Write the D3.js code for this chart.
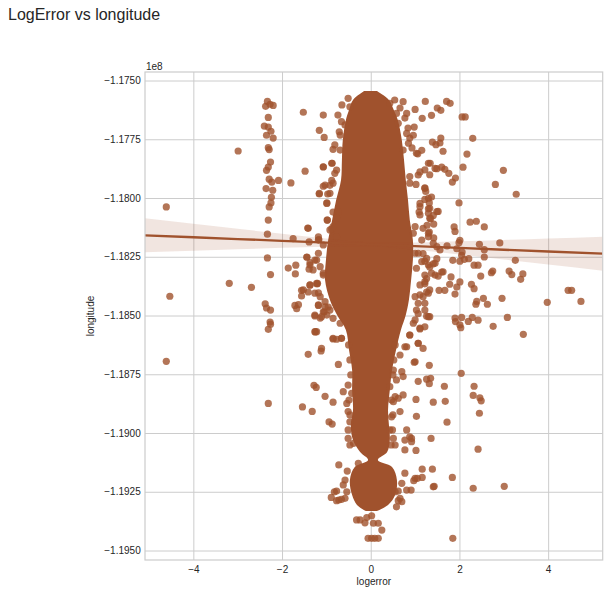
<!DOCTYPE html>
<html>
<head>
<meta charset="utf-8">
<script src="https://cdn.jsdelivr.net/npm/d3@7"></script>
<style>
body { margin: 0; background: #fff; }
text { font-family: "Liberation Sans", Arial, sans-serif; fill: #262626; }
</style>
</head>
<body>
<svg id="chart" width="608" height="593"></svg>
<script>
// logerror vs longitude (longitude values below are in units of 1e6, scaled up when drawn)

// tick values
var xTicks = [-4, -2, 0, 2, 4];
var yTicks = [-117.5, -117.75, -118.0, -118.25, -118.5, -118.75, -119.0, -119.25, -119.5];

// dense central column: where the points fully overlap
var coreLon   = [-117.545, -117.583, -117.626, -117.668, -117.753, -117.838, -117.923, -118.009, -118.094, -118.179, -118.264, -118.349, -118.434, -118.498, -118.562, -118.647, -118.732, -118.817, -118.902, -118.966, -119.030, -119.081, -119.115, -119.145, -119.200, -119.264, -119.306, -119.332];
var coreLeft  = [-0.15, -0.40, -0.49, -0.56, -0.63, -0.65, -0.67, -0.78, -0.87, -0.96, -1.01, -1.03, -0.92, -0.76, -0.56, -0.49, -0.42, -0.42, -0.40, -0.45, -0.40, -0.24, -0.06, -0.36, -0.47, -0.42, -0.31, -0.11];
var coreRight = [0.14, 0.41, 0.52, 0.61, 0.70, 0.75, 0.79, 0.84, 0.88, 0.95, 0.95, 0.91, 0.86, 0.79, 0.68, 0.57, 0.48, 0.43, 0.39, 0.41, 0.43, 0.37, 0.16, 0.48, 0.59, 0.55, 0.39, 0.14];

// single points [logerror, longitude]
var leftColumn = [[-2.33,-117.589],[-2.20,-117.606],[-2.37,-117.610],[-2.27,-117.601],[-2.31,-117.657],[-2.40,-117.694],[-2.31,-117.698],[-2.25,-117.716],[-2.35,-117.733],[-2.20,-117.745],[-2.31,-117.786],[-2.29,-117.794],[-2.26,-117.847],[-2.31,-117.868],[-2.35,-117.882],[-2.29,-117.920],[-2.23,-117.932],[-2.08,-117.925],[-2.36,-117.960],[-2.21,-117.967],[-2.24,-117.997],[-2.25,-118.021],[-2.29,-118.038],[-2.31,-118.094],[-2.33,-118.154],[-2.33,-118.255],[-2.26,-118.326],[-2.38,-118.450],[-2.35,-118.468],[-2.26,-118.477],[-2.27,-118.528],[-2.26,-118.537],[-2.31,-118.559],[-2.31,-118.874]];

var farLeft = [[-4.61,-118.038],[-4.61,-118.695],[-4.53,-118.418],[-2.99,-117.800],[-3.19,-118.363],[-2.69,-118.380],[-1.80,-117.936],[-1.75,-118.173],[-1.52,-117.635],[-1.48,-117.886],[-1.86,-118.298],[-1.69,-118.286],[-1.70,-118.323],[-1.71,-118.457],[-1.63,-118.454],[-1.67,-118.471],[-1.54,-118.889],[-1.32,-118.908],[-1.42,-118.128],[-1.39,-118.187],[-1.17,-118.177],[-1.44,-118.251],[-1.37,-118.275],[-1.39,-118.303],[-1.56,-118.393],[-1.41,-118.400],[-1.37,-118.371],[-1.21,-118.366],[-1.18,-118.404],[-1.56,-118.417],[-1.26,-118.502],[-1.14,-118.511],[-1.05,-118.485],[-0.96,-118.464],[-1.18,-118.457],[-0.99,-118.498],[-1.25,-118.570],[-0.85,-118.600],[-1.41,-118.665],[-1.12,-118.651],[-1.28,-118.797],[-1.23,-118.806],[-1.03,-118.844],[-0.85,-118.869],[-0.94,-118.953],[-0.87,-118.962],[-0.89,-119.274],[-0.82,-119.250]];

var nearLeft = [[-1.07,-117.647],[-1.16,-117.712],[-1.05,-117.742],[-0.85,-117.793],[-1.07,-117.868],[-0.88,-117.925],[-0.92,-117.946],[-1.07,-117.950],[-1.16,-117.983],[-0.97,-117.983],[-0.99,-118.021],[-0.98,-118.094],[-0.85,-118.060],[-0.88,-118.131],[-0.66,-117.675],[-0.51,-117.576],[-0.71,-117.718],[-0.69,-117.796],[-0.87,-117.852],[-0.77,-117.881],[-0.85,-118.122],[-0.77,-118.165],[-1.18,-118.165],[-1.22,-118.264],[-1.07,-118.320],[-1.18,-118.235],[-1.20,-118.363],[-1.03,-118.441],[-1.07,-118.484],[-1.22,-118.569],[-0.66,-118.597],[-0.77,-118.601],[-0.73,-118.708],[-0.51,-118.796],[-0.62,-118.824],[-0.43,-118.831],[-0.54,-118.874],[-0.51,-118.909],[-0.47,-118.952],[-0.51,-119.023],[-0.39,-119.044],[-0.72,-119.136],[-0.53,-119.162],[-0.28,-119.129],[-0.58,-119.200],[-0.62,-119.221],[-0.54,-119.250],[-0.77,-119.247],[-0.72,-119.285],[-0.58,-119.278],[-0.77,-119.288],[-0.66,-119.282],[-0.47,-117.612]];

// points packed just outside the solid core
var haloLeft = [[-1.07,-117.867],[-0.88,-117.852],[-0.81,-117.895],[-0.85,-117.937],[-1.03,-117.945],[-1.16,-117.980],[-0.92,-117.980],[-0.99,-118.023],[-0.73,-118.058],[-0.98,-118.094],[-0.77,-118.086],[-1.41,-118.129],[-0.92,-118.136],[-1.18,-118.179],[-1.07,-118.200],[-1.44,-118.252],[-1.26,-118.264],[-1.37,-118.285],[-1.14,-118.292],[-1.30,-118.306],[-1.07,-118.328],[-1.37,-118.370],[-1.22,-118.363],[-1.52,-118.391],[-1.26,-118.405],[-1.14,-118.420],[-1.18,-118.455],[-1.03,-118.463],[-0.92,-118.477],[-1.26,-118.498],[-1.11,-118.505],[-0.85,-118.512],[-0.69,-118.533],[-1.26,-118.569],[-0.85,-118.597],[-0.66,-118.597],[-1.11,-118.640],[-0.65,-117.604],[-0.74,-117.647],[-0.58,-117.689],[-0.69,-117.732],[-0.81,-117.774],[-0.50,-118.625],[-0.47,-118.689],[-0.45,-118.753],[-0.49,-118.860],[-0.47,-118.923],[-0.51,-118.987],[-0.47,-119.051]];

var haloRight = [[1.03,-117.810],[1.30,-117.852],[1.45,-117.874],[1.07,-117.902],[0.88,-117.937],[1.22,-117.959],[1.30,-118.001],[1.11,-118.023],[1.33,-118.044],[1.49,-118.058],[1.11,-118.072],[1.33,-118.086],[1.00,-118.122],[1.30,-118.150],[1.15,-118.179],[1.49,-118.207],[1.07,-118.235],[1.26,-118.257],[1.45,-118.278],[1.03,-118.299],[1.22,-118.328],[1.45,-118.328],[1.11,-118.370],[1.30,-118.405],[1.00,-118.420],[1.22,-118.448],[1.03,-118.477],[1.30,-118.505],[0.96,-118.533],[1.11,-118.554],[0.88,-118.583],[1.07,-118.618],[0.81,-118.633],[0.54,-117.583],[0.66,-117.617],[0.77,-117.660],[0.84,-117.702],[0.88,-117.745],[0.93,-117.787],[0.55,-118.625],[0.52,-118.689],[0.50,-118.753],[0.47,-118.860],[0.50,-118.923],[0.49,-118.987],[0.46,-119.051]];

var bottomTail = [[-0.24,-119.370],[-0.09,-119.360],[0.02,-119.352],[-0.13,-119.382],[0.06,-119.384],[0.17,-119.384],[0.25,-119.413],[-0.06,-119.448],[0.02,-119.448],[0.09,-119.448],[0.17,-119.448],[-0.32,-119.370],[1.85,-119.448]];

var nearRight = [[0.58,-119.314],[0.62,-119.288],[0.62,-119.247],[0.81,-119.243],[0.70,-119.214],[1.00,-118.235],[1.15,-118.271],[1.30,-118.285],[1.37,-118.320],[1.22,-118.356],[1.33,-118.391],[1.18,-118.420],[1.07,-118.448],[1.22,-118.477],[1.33,-118.505],[1.00,-118.519],[0.88,-118.583],[0.77,-118.633],[0.66,-118.668],[1.00,-118.697],[0.51,-118.732],[0.70,-118.739],[0.58,-118.774],[0.73,-118.760],[0.55,-118.845],[0.73,-118.838],[0.43,-118.803],[0.51,-118.867],[0.62,-118.852],[0.66,-118.909],[0.47,-118.931],[0.43,-118.987],[0.51,-119.023],[0.55,-119.051],[0.81,-118.987],[0.88,-119.016],[0.77,-119.030],[0.92,-119.037],[0.77,-119.072],[0.77,-119.171],[1.00,-119.193],[0.66,-119.278],[0.70,-119.292],[0.55,-119.250],[1.41,-119.229],[0.73,-117.590],[0.43,-117.597],[0.58,-117.640],[0.81,-117.640],[0.62,-117.682],[0.81,-117.725],[0.85,-117.767],[0.73,-117.796],[0.88,-117.909],[1.11,-118.037],[1.30,-118.065],[1.18,-118.129],[0.96,-118.150],[1.30,-118.165],[1.41,-118.193],[1.56,-118.221],[1.63,-118.314]];

var farRight = [[1.23,-117.589],[1.00,-117.623],[1.71,-117.589],[1.79,-117.597],[1.50,-117.617],[1.58,-117.627],[1.37,-117.648],[1.16,-117.661],[2.06,-117.655],[2.13,-117.655],[0.98,-117.698],[0.96,-117.733],[2.30,-117.746],[1.39,-117.762],[1.47,-117.773],[1.56,-117.766],[1.58,-117.745],[1.63,-117.801],[1.15,-117.797],[1.06,-117.812],[2.17,-117.813],[1.34,-117.852],[2.08,-117.869],[2.99,-117.882],[1.49,-117.875],[1.60,-117.869],[1.67,-117.878],[1.76,-117.895],[1.22,-117.880],[1.33,-117.901],[1.11,-117.889],[1.91,-117.915],[1.84,-117.932],[2.81,-117.942],[3.28,-117.984],[1.22,-117.957],[1.24,-117.972],[1.02,-117.942],[1.37,-117.996],[1.22,-118.006],[1.32,-118.021],[1.99,-118.021],[1.30,-118.046],[1.52,-118.057],[1.41,-118.074],[1.35,-118.088],[1.42,-118.111],[1.27,-118.116],[1.09,-118.060],[2.24,-118.103],[2.38,-118.099],[2.56,-118.123],[1.88,-118.123],[1.90,-118.142],[1.32,-118.145],[1.42,-118.170],[2.01,-118.180],[1.99,-118.190],[2.91,-118.191],[2.45,-118.197],[2.56,-118.220],[2.56,-118.251],[1.72,-118.204],[1.94,-118.216],[2.06,-118.230],[2.05,-118.244],[1.85,-118.265],[2.01,-118.269],[2.11,-118.261],[2.21,-118.258],[3.26,-118.265],[2.33,-118.286],[2.42,-118.286],[2.48,-118.332],[2.75,-118.311],[2.72,-118.318],[3.12,-118.311],[3.18,-118.326],[3.43,-118.323],[3.38,-118.346],[1.33,-118.294],[1.41,-118.280],[1.49,-118.258],[1.22,-118.269],[1.18,-118.237],[1.60,-118.315],[1.52,-118.332],[1.26,-118.343],[1.22,-118.365],[1.81,-118.336],[2.01,-118.357],[1.94,-118.379],[1.78,-118.367],[1.67,-118.393],[1.54,-118.393],[1.90,-118.409],[2.27,-118.367],[2.33,-118.386],[1.26,-118.400],[1.11,-118.412],[4.45,-118.393],[4.53,-118.393],[4.74,-118.440],[3.98,-118.444],[2.96,-118.427],[2.54,-118.427],[2.39,-118.440],[2.63,-118.452],[2.37,-118.452],[3.08,-118.508],[1.90,-118.511],[2.05,-118.508],[2.29,-118.508],[2.20,-118.525],[2.42,-118.520],[1.26,-118.503],[1.07,-118.492],[1.91,-118.526],[2.01,-118.540],[2.03,-118.552],[2.76,-118.546],[3.44,-118.580],[1.11,-118.557],[1.22,-118.548],[1.07,-118.618],[1.18,-118.640],[0.98,-118.699],[1.32,-118.712],[2.04,-118.746],[1.07,-118.780],[1.26,-118.771],[1.35,-118.767],[1.32,-118.790],[1.66,-118.801],[2.33,-118.801],[2.31,-118.840],[2.46,-118.850],[2.49,-118.863],[2.45,-118.916],[1.02,-118.857],[1.41,-118.869],[1.68,-118.865],[1.03,-118.929],[1.72,-118.954],[0.92,-119.023],[1.36,-119.023],[1.02,-119.074],[2.42,-119.069],[1.16,-119.154],[1.39,-119.154],[1.16,-119.189],[1.05,-119.193],[0.97,-119.203],[1.84,-119.189],[1.43,-119.227],[2.31,-119.235],[3.01,-119.227],[0.91,-119.243]];

// regression fit and its confidence band
var fitX   = [-5.09, -4, -3, -2, -1, 0, 1, 2, 3, 4, 5.23];
var fitLon = [-118.1587, -118.1670, -118.1746, -118.1822, -118.1898, -118.1974, -118.2049, -118.2126, -118.2201, -118.2277, -118.2370];
var ciHalf = [0.0723, 0.0572, 0.0435, 0.0300, 0.0172, 0.0086, 0.0155, 0.0282, 0.0416, 0.0553, 0.0723];

var color = "#a0522d";
var E6 = 1e6;

// plot box (avoid the global names top/left)
var pLeft = 145, pRight = 602.7, pTop = 72, pBottom = 560;

var svg = d3.select("#chart");

var x = d3.scaleLinear().domain([-5.09, 5.23]).range([pLeft, pRight]);
var y = d3.scaleLinear().domain([-119.5404 * E6, -117.4638 * E6]).range([pBottom, pTop]);

var minus = function(v) { return v < 0 ? "\u2212" + Math.abs(v) : "" + v; };

// grid + tick labels
var gx = svg.append("g")
    .attr("transform", "translate(0," + pBottom + ")")
    .call(d3.axisBottom(x)
        .tickValues(xTicks)
        .tickSize(-(pBottom - pTop))
        .tickPadding(5.5)
        .tickFormat(minus));

var gy = svg.append("g")
    .attr("transform", "translate(" + pLeft + ",0)")
    .call(d3.axisLeft(y)
        .tickValues(yTicks.map(function(v) { return v * E6; }))
        .tickSize(-(pRight - pLeft))
        .tickPadding(4.3)
        .tickFormat(function(v) { return "\u2212" + (Math.abs(v) / 1e8).toFixed(4); }));

[gx, gy].forEach(function(g) {
    g.select(".domain").remove();
    g.selectAll(".tick line").attr("stroke", "#cccccc").attr("stroke-width", 1);
    g.selectAll(".tick text").style("font-size", "10px").attr("fill", "#262626");
});

svg.append("clipPath").attr("id", "clip")
   .append("rect")
   .attr("x", pLeft).attr("y", pTop)
   .attr("width", pRight - pLeft).attr("height", pBottom - pTop);

var plot = svg.append("g").attr("clip-path", "url(#clip)");

// dense core
var core = coreLon.map(function(d, i) { return {lon: d * E6, lo: coreLeft[i], hi: coreRight[i]}; });
plot.append("path")
    .datum(core)
    .attr("fill", color)
    .attr("d", d3.area()
        .curve(d3.curveCatmullRom)
        .y(function(d) { return y(d.lon); })
        .x0(function(d) { return x(d.lo); })
        .x1(function(d) { return x(d.hi); }));

// individual points
var pts = [].concat(leftColumn, farLeft, nearLeft, haloLeft, haloRight, bottomTail, nearRight, farRight);
plot.selectAll("circle")
    .data(pts)
    .enter()
    .append("circle")
    .attr("cx", function(d) { return x(d[0]); })
    .attr("cy", function(d) { return y(d[1] * E6); })
    .attr("r", 3.6)
    .attr("fill", color)
    .attr("fill-opacity", 0.8);

// confidence band and fit line
var fit = fitX.map(function(d, i) { return {x: d, lon: fitLon[i] * E6, h: ciHalf[i] * E6}; });
plot.append("path")
    .datum(fit)
    .attr("fill", color)
    .attr("fill-opacity", 0.15)
    .attr("d", d3.area()
        .curve(d3.curveMonotoneX)
        .x(function(d) { return x(d.x); })
        .y0(function(d) { return y(d.lon - d.h); })
        .y1(function(d) { return y(d.lon + d.h); }));

plot.append("path")
    .datum(fit)
    .attr("fill", "none")
    .attr("stroke", color)
    .attr("stroke-width", 2.3)
    .attr("d", d3.line()
        .x(function(d) { return x(d.x); })
        .y(function(d) { return y(d.lon); }));

// frame
svg.append("rect")
   .attr("x", pLeft).attr("y", pTop)
   .attr("width", pRight - pLeft).attr("height", pBottom - pTop)
   .attr("fill", "none")
   .attr("stroke", "#cccccc")
   .attr("stroke-width", 1.2);

// labels
svg.append("text")
   .attr("x", pLeft + 1).attr("y", 69.5)
   .style("font-size", "10px")
   .text("1e8");

svg.append("text")
   .attr("x", (pLeft + pRight) / 2).attr("y", 585)
   .attr("text-anchor", "middle")
   .style("font-size", "10px")
   .text("logerror");

svg.append("text")
   .attr("transform", "translate(94," + ((pTop + pBottom) / 2) + ") rotate(-90)")
   .attr("text-anchor", "middle")
   .style("font-size", "10px")
   .text("longitude");

svg.append("text")
   .attr("x", 8).attr("y", 20)
   .style("font-size", "16px")
   .text("LogError vs longitude");
</script>
</body>
</html>
